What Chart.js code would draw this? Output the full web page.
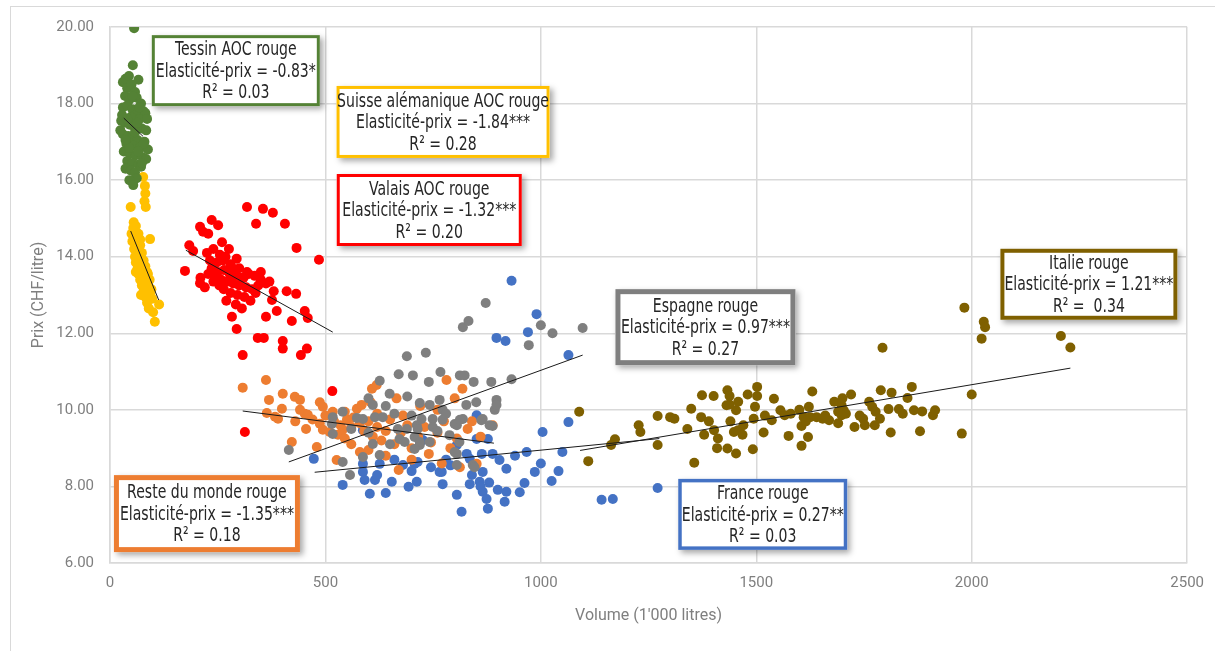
<!DOCTYPE html>
<html><head><meta charset="utf-8">
<script src="https://cdn.jsdelivr.net/npm/chart.js@4.4.1/dist/chart.umd.min.js"></script>
<style>
html,body{margin:0;padding:0;background:#fff;}
#wrap{position:relative;width:1215px;height:651px;overflow:hidden;}
#frame{position:absolute;left:10px;top:6px;width:1210px;height:660px;border-top:1.5px solid #d9d9d9;border-left:1.5px solid #d9d9d9;}
canvas{position:absolute;left:0;top:0;}
</style></head>
<body><div id="wrap"><div id="frame"></div><canvas id="c" width="1215" height="651"></canvas></div>
<script>
// ---------- data ----------
const xTickValues = [0, 500, 1000, 1500, 2000, 2500];
const yTickValues = [6, 8, 10, 12, 14, 16, 18, 20];

const tessin = [[56,19.97],[53,19.0],[30,18.56],[36,18.65],[44,18.72],[66,18.62],[40,18.4],[50,18.5],[58,18.3],[35,18.2],[45,18.1],[62,18.15],[72,18.0],[78,17.8],[82,17.75],[30,17.9],[40,17.95],[52,17.85],[60,17.7],[68,17.6],[26,17.55],[34,17.5],[46,17.45],[56,17.4],[74,17.35],[84,17.3],[30,17.2],[42,17.15],[50,17.1],[64,17.05],[80,17.0],[38,16.95],[55,16.9],[70,16.85],[88,16.8],[32,16.75],[46,16.7],[60,16.65],[76,16.6],[40,16.5],[52,16.45],[66,16.4],[84,16.55],[36,16.3],[48,16.25],[58,16.2],[72,16.35],[62,16.05],[45,16.0],[54,15.87],[28,17.7],[68,17.9],[48,17.65],[58,17.25],[86,17.6],[24,17.3],[78,16.95],[44,16.85],[66,16.75],[36,17.05],[52,18.2],[64,17.5],[40,17.6],[74,16.45]];
const suisse = [[77,16.08],[81,15.85],[82,15.65],[80,15.45],[83,15.3],[48,15.3],[55,14.9],[60,14.8],[50,14.6],[58,14.55],[66,14.6],[93,14.46],[52,14.4],[62,14.35],[70,14.3],[56,14.2],[64,14.15],[74,14.1],[58,14.0],[68,13.95],[78,13.9],[60,13.85],[72,13.8],[82,13.75],[64,13.7],[76,13.65],[86,13.6],[66,13.55],[80,13.5],[70,13.4],[84,13.35],[92,13.4],[74,13.25],[88,13.2],[78,13.1],[94,13.05],[82,12.95],[72,13.0],[98,12.9],[86,12.8],[114,12.75],[100,12.55],[104,12.3],[90,12.65],[54,14.75],[62,14.05],[68,13.6],[76,13.45],[80,13.2],[88,13.55],[96,13.15],[70,14.45],[60,13.6],[84,12.95],[66,14.25],[74,13.75],[82,13.45]];
const valais = [[318,15.3],[355,15.25],[378,15.15],[339,14.86],[406,14.86],[209,14.78],[236,14.96],[251,14.82],[216,14.65],[228,14.6],[433,14.23],[485,13.92],[184,14.3],[193,14.15],[260,14.38],[276,14.2],[174,13.63],[209,13.31],[220,13.2],[283,12.43],[294,12.11],[362,12.43],[387,12.58],[410,13.1],[432,13.03],[452,12.58],[459,12.4],[422,12.32],[343,11.88],[357,11.88],[401,11.8],[401,11.6],[457,11.6],[443,11.43],[308,11.43],[376,12.87],[516,10.49],[313,9.42],[225,14.1],[240,14.2],[255,14.05],[268,14.0],[232,13.9],[248,13.85],[262,13.9],[280,13.8],[294,13.95],[300,13.7],[236,13.7],[250,13.6],[265,13.65],[278,13.55],[290,13.5],[310,13.45],[322,13.55],[336,13.5],[350,13.4],[228,13.55],[244,13.45],[258,13.4],[272,13.35],[286,13.3],[300,13.25],[316,13.2],[330,13.15],[344,13.25],[362,13.3],[264,13.15],[280,13.05],[296,13.0],[312,12.95],[326,12.85],[270,12.85],[292,12.75],[306,12.65],[318,13.6],[304,13.45],[338,13.05],[240,13.35],[284,13.7],[254,13.25],[210,13.45],[350,13.6],[370,13.35],[380,13.1]];
const reste = [[308,10.58],[362,10.78],[369,10.26],[401,10.42],[429,10.34],[441,10.26],[364,9.92],[383,9.82],[390,9.77],[399,10.03],[441,10.0],[452,9.9],[459,9.87],[487,10.2],[494,10.08],[487,9.64],[494,9.48],[517,9.95],[545,9.95],[422,9.16],[480,9.03],[526,8.69],[510,9.42],[529,9.35],[540,9.48],[573,10.03],[584,10.13],[608,10.55],[619,10.65],[781,10.78],[818,10.55],[670,8.43],[812,8.5],[851,8.59],[888,9.6],[520,9.7],[535,9.6],[550,9.75],[560,9.55],[565,9.8],[580,9.65],[590,9.45],[600,9.7],[610,9.3],[620,9.55],[630,9.2],[640,9.45],[650,9.75],[660,9.1],[675,9.4],[690,9.6],[700,9.0],[715,9.3],[730,9.55],[745,9.15],[760,9.4],[775,9.7],[790,9.0],[805,9.25],[830,9.5],[560,9.1],[580,8.9],[600,8.95],[640,8.8],[700,8.7],[740,8.85],[770,8.6],[545,9.25],[620,9.9],[680,9.85],[720,10.1],[760,10.0],[800,10.3],[470,9.75],[500,9.85],[455,9.5],[430,9.7],[605,10.2],[665,10.3],[840,9.7],[860,9.3]];
const espagne = [[872,12.79],[819,12.16],[832,12.32],[1000,12.21],[1027,12.0],[1097,12.14],[972,11.69],[689,11.4],[733,11.49],[626,10.76],[670,10.93],[703,10.9],[767,10.99],[812,10.9],[823,10.9],[844,10.73],[885,10.73],[932,10.8],[740,10.73],[649,10.42],[610,10.13],[719,10.18],[765,10.26],[897,10.26],[893,10.0],[865,9.76],[888,9.58],[517,9.81],[515,9.63],[573,9.79],[587,9.76],[615,9.81],[633,9.81],[668,9.5],[712,9.6],[749,9.76],[772,9.74],[805,9.6],[819,9.76],[415,8.95],[517,9.37],[540,8.64],[557,8.3],[610,9.11],[672,9.24],[719,9.08],[742,9.16],[805,8.85],[805,8.56],[842,8.56],[626,8.82],[587,8.77],[707,9.29],[742,10.13],[827,10.13],[772,10.0],[800,9.63],[812,9.74],[749,9.55],[723,9.76],[714,9.5],[719,9.16],[788,9.34],[811,9.16],[800,8.9],[846,8.5],[684,9.16],[707,8.98],[689,9.5],[897,10.13],[862,9.73],[881,9.6],[640,10.1],[660,9.9],[690,10.35],[560,9.5],[600,9.4],[650,9.1],[760,9.45],[780,9.9],[540,9.95],[600,10.3],[850,10.2],[700,9.85]];
const france = [[932,13.37],[990,12.5],[970,12.03],[897,11.88],[918,11.8],[1064,11.43],[1004,9.42],[1064,9.68],[1050,8.9],[967,8.9],[986,8.38],[1025,8.14],[1041,8.4],[962,8.09],[951,7.85],[1141,7.65],[1167,7.67],[1271,7.96],[851,9.86],[851,9.24],[904,8.69],[920,8.46],[865,8.38],[858,8.12],[865,7.86],[874,7.67],[900,7.91],[916,7.6],[920,7.86],[816,7.34],[877,7.42],[835,8.06],[805,7.78],[770,8.38],[772,8.06],[712,8.12],[693,7.99],[714,8.64],[707,8.59],[828,8.85],[835,8.72],[863,8.85],[888,8.85],[877,9.24],[473,8.72],[540,8.04],[587,8.38],[591,8.17],[615,8.17],[603,7.81],[640,7.83],[654,8.12],[680,8.56],[765,8.38],[587,8.59],[626,8.59],[587,9.47],[726,9.21],[805,9.08],[840,8.3],[880,8.1],[860,8.0],[780,8.7],[745,8.5],[660,8.7],[620,8.3],[700,8.4],[790,8.55],[940,8.8],[1000,8.6]];
const italie = [[1089,9.95],[1110,8.66],[1163,9.08],[1172,9.23],[1227,9.6],[1231,9.42],[1271,9.84],[1271,9.08],[1300,9.81],[1310,9.77],[1349,10.03],[1372,9.81],[1374,10.38],[1401,10.36],[1356,8.62],[1379,9.35],[1402,9.47],[1411,9.25],[1409,9.0],[1433,10.51],[1438,10.36],[1438,10.14],[1431,10.12],[1453,9.99],[1458,10.21],[1433,8.99],[1453,8.86],[1448,9.42],[1458,9.47],[1468,9.35],[1502,10.6],[1502,10.36],[1497,10.08],[1494,9.77],[1492,8.97],[1517,9.41],[1541,10.29],[1556,9.99],[1536,9.73],[1575,9.32],[1566,9.86],[1605,9.06],[1605,9.58],[1622,10.08],[1620,9.29],[1630,10.48],[1610,9.81],[1625,9.81],[1640,9.81],[1654,9.77],[1669,9.73],[1681,10.21],[1698,10.12],[1703,9.99],[1708,9.9],[1698,9.86],[1720,10.4],[1728,9.55],[1748,9.77],[1752,9.6],[1762,10.21],[1769,10.08],[1777,9.95],[1787,9.77],[1789,10.51],[1814,10.45],[1793,11.62],[1807,10.02],[1831,10.02],[1812,9.41],[1851,10.31],[1861,10.6],[1866,9.99],[1885,9.96],[1880,9.44],[1910,9.86],[1915,9.99],[1977,9.38],[2000,10.4],[1983,12.67],[2023,11.86],[2028,12.3],[2031,12.16],[2207,11.93],[2229,11.63],[1690,9.95],[1615,9.7],[1740,9.85],[1580,9.9],[1470,9.6],[1520,9.85],[1660,9.85],[1700,10.3],[1600,10.0],[1340,9.5],[1390,9.7],[1440,9.7],[1775,9.6],[1840,9.9],[1480,10.4],[1690,9.65]];

const tessinTrend = [[32,17.62],[77,17.14]];
const suisseTrend = [[48,14.67],[113,12.87]];
const valaisTrend = [[176,14.17],[517,12.03]];
const resteTrend = [[308,9.97],[891,9.13]];
const espagneTrend = [[415,8.64],[1097,11.43]];
const franceTrend = [[475,8.37],[1275,9.25]];
const italieTrend = [[1091,8.94],[2229,11.09]];

const labelTitles = ['Tessin AOC rouge','Suisse alémanique AOC rouge','Valais AOC rouge','Espagne rouge','Italie rouge','France rouge','Reste du monde rouge'];
const labelElast = ['Elasticité-prix = -0.83*','Elasticité-prix = -1.84***','Elasticité-prix = -1.32***','Elasticité-prix = 0.97***','Elasticité-prix = 1.21***','Elasticité-prix = 0.27**','Elasticité-prix = -1.35***'];
const labelR2 = ['R² = 0.03','R² = 0.28','R² = 0.20','R² = 0.27','R² =  0.34','R² = 0.03','R² = 0.18'];

// ---------- annotation layout (data-space anchors, pixel sizes) ----------
const boxLayout = [
  {cx:292, cy:18.86, w:168, h:71, color:'#548235', lw:3},
  {cx:773, cy:17.52, w:213, h:72, color:'#FFC000', lw:3},
  {cx:741, cy:15.22, w:185, h:72, color:'#FF0000', lw:3},
  {cx:1382, cy:12.16, w:180, h:76, color:'#7F7F7F', lw:5},
  {cx:2272, cy:13.28, w:177, h:71, color:'#7F6000', lw:4},
  {cx:1515, cy:7.27, w:169, h:71, color:'#4472C4', lw:3.5},
  {cx:225, cy:7.29, w:186, h:77, color:'#ED7D31', lw:5}
];

const toXY = arr => arr.map(p => ({x:p[0], y:p[1]}));
const trend = (arr) => ({type:'line', data:toXY(arr), borderColor:'#1a1a1a', borderWidth:1, pointRadius:0, fill:false, tension:0});
const pts = (arr, col) => ({type:'scatter', data:toXY(arr), backgroundColor:col, borderColor:col, borderWidth:0, pointRadius:5, pointHoverRadius:5});

const boxPlugin = {
  id:'boxes',
  afterDraw(chart){
    const {ctx, scales:{x, y}} = chart;
    ctx.save();
    ctx.font = '20px "Liberation Sans Narrow", "Arial Narrow", "DejaVu Sans Condensed", sans-serif';
    const ref = ctx.measureText('Elasticité-prix = -1.32***').width;
    const sx = Math.min(1, 174 / ref);
    boxLayout.forEach((b, i) => {
      const cx = x.getPixelForValue(b.cx), cy = y.getPixelForValue(b.cy);
      const l = cx - b.w/2, t = cy - b.h/2;
      ctx.save();
      ctx.shadowColor = 'rgba(0,0,0,0.35)';
      ctx.shadowBlur = 6; ctx.shadowOffsetX = 3; ctx.shadowOffsetY = 3;
      ctx.fillStyle = '#fff';
      ctx.fillRect(l, t, b.w, b.h);
      ctx.restore();
      ctx.fillStyle = '#fff';
      ctx.fillRect(l, t, b.w, b.h);
      ctx.strokeStyle = b.color; ctx.lineWidth = b.lw;
      ctx.strokeRect(l + b.lw/2, t + b.lw/2, b.w - b.lw, b.h - b.lw);
      ctx.fillStyle = '#262626';
      ctx.textAlign = 'center'; ctx.textBaseline = 'middle';
      const lines = [labelTitles[i], labelElast[i], labelR2[i]];
      lines.forEach((s, k) => {
        ctx.save();
        ctx.translate(cx, cy + (k - 1) * 21.5 + 1);
        ctx.scale(sx, 1);
        ctx.fillText(s, 0, 0);
        ctx.restore();
      });
    });
    ctx.restore();
  }
};

const tickFont = {family:'Roboto, "DejaVu Sans", sans-serif', size:15};
const gridStyle = {color:'#d9d9d9', lineWidth:1.5, drawTicks:false};

new Chart(document.getElementById('c'), {
  data:{datasets:[
    trend(tessinTrend), trend(suisseTrend), trend(valaisTrend), trend(resteTrend), trend(espagneTrend), trend(franceTrend), trend(italieTrend),
    pts(tessin,'#548235'), pts(suisse,'#FFC000'), pts(valais,'#FF0000'),
    pts(espagne,'#7F7F7F'), pts(reste,'#ED7D31'), pts(france,'#4472C4'), pts(italie,'#7F6000')
  ]},
  options:{
    responsive:false, animation:false, devicePixelRatio:1,
    layout:{padding:{left:0, right:27, top:27, bottom:0}},
    plugins:{legend:{display:false}, tooltip:{enabled:false}},
    scales:{
      x:{type:'linear', min:xTickValues[0], max:xTickValues[xTickValues.length-1],
         afterBuildTicks: s => { s.ticks = xTickValues.map(v => ({value:v})); },
         ticks:{padding:11, color:'#7f7f7f', font:tickFont, callback:v => String(v), maxRotation:0},
         grid:gridStyle, border:{display:true, color:'#d9d9d9', width:1.5},
         title:{display:true, text:"Volume (1'000 litres)", color:'#7f7f7f', font:{family:'Roboto, sans-serif', size:16}, padding:{top:0, bottom:25}},
         afterFit: s => { s.height = 88; }},
      y:{type:'linear', min:yTickValues[0], max:yTickValues[yTickValues.length-1],
         afterBuildTicks: s => { s.ticks = yTickValues.map(v => ({value:v})); },
         ticks:{padding:16, color:'#7f7f7f', font:tickFont, callback:v => Number(v).toFixed(2)},
         grid:gridStyle, border:{display:true, color:'#d9d9d9', width:1.5},
         title:{display:true, text:'Prix (CHF/litre)', color:'#7f7f7f', font:{family:'Roboto, sans-serif', size:16}, padding:{top:29, bottom:0}},
         afterFit: s => { s.width = 110; }}
    }
  },
  plugins:[boxPlugin]
});
</script>
</body></html>
